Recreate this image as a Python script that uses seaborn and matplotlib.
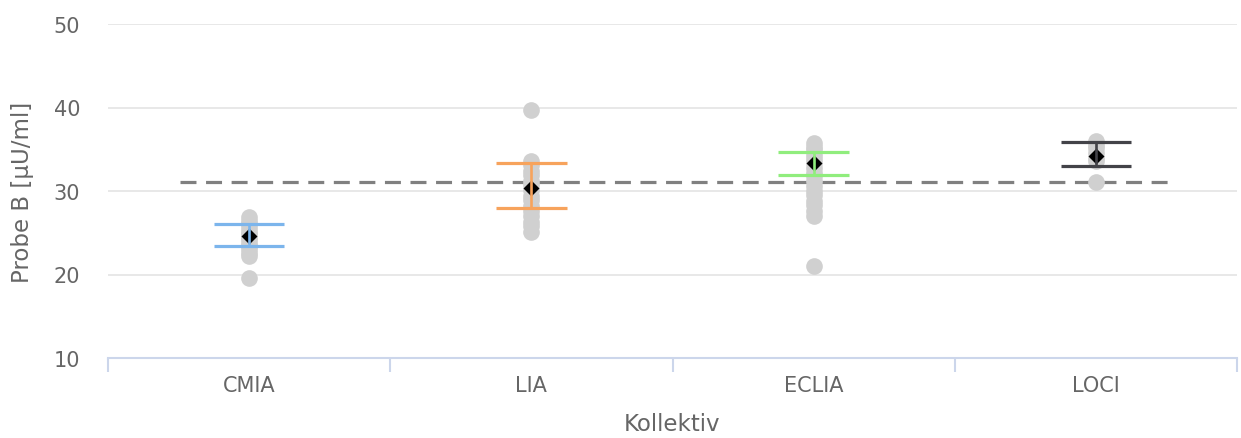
import matplotlib
matplotlib.use("Agg")
import matplotlib.pyplot as plt
import seaborn as sns
import pandas as pd
import numpy as np

# Categories and measured values per method
categories = ["CMIA", "LIA", "ECLIA", "LOCI"]
cmia_values = [26.9, 26.4, 26.0, 25.6, 25.1, 24.8, 24.5, 24.2, 23.8, 23.4, 23.0, 22.6, 22.2, 19.6]
lia_values = [39.7, 33.6, 33.1, 32.4, 31.9, 31.2, 30.7, 30.1, 29.4, 28.9, 28.2, 27.6, 27.0, 26.3, 25.8, 25.1]
eclia_values = [35.8, 35.3, 34.9, 34.3, 33.8, 33.4, 32.8, 32.2, 31.8, 31.2, 30.6, 30.0, 29.5, 28.8, 28.3, 27.6, 27.0, 21.0]
loci_values = [36.0, 35.5, 35.1, 34.6, 34.0, 33.6, 31.1]

# Summary per method: mean and interval bounds
means = [24.6, 30.4, 33.3, 34.2]
lower = [23.4, 28.0, 31.9, 33.0]
upper = [26.1, 33.3, 34.7, 35.9]

# Target value (dashed reference line)
target_value = 31.1

colors = ["#7cb5ec", "#f7a35c", "#90ed7d", "#434348"]
text_color = "#666666"

sns.set_style("white")
plt.rcParams["font.family"] = ["DejaVu Sans"]

points = pd.DataFrame({
    "Kollektiv": (["CMIA"] * len(cmia_values) + ["LIA"] * len(lia_values)
                  + ["ECLIA"] * len(eclia_values) + ["LOCI"] * len(loci_values)),
    "value": cmia_values + lia_values + eclia_values + loci_values,
})
summary = pd.DataFrame({"Kollektiv": categories, "mean": means,
                        "lower": lower, "upper": upper})

fig = plt.figure(figsize=(12.41, 4.39), dpi=100)
ax = fig.add_axes([108 / 1241, 1 - 359 / 439, (1237 - 108) / 1241, (359 - 25) / 439])

# horizontal grid
for v in [20, 30, 40, 50]:
    ax.axhline(v, color="#e6e6e6", lw=1.3, zorder=0)

# dashed target line
ax.plot([-0.245, 3.27], [target_value, target_value], color="#808080", lw=2.3,
        dashes=(5, 3), zorder=1)

# individual measurements
sns.stripplot(data=points, x="Kollektiv", y="value", order=categories, jitter=False,
              color="#d0d0d0", size=12, linewidth=0, ax=ax, zorder=2)

# interval caps
cap = 0.125
for i, (lo, hi, c) in enumerate(zip(lower, upper, colors)):
    ax.hlines([lo, hi], i - cap, i + cap, colors=c, lw=2.3, zorder=3)

# mean markers
sns.pointplot(data=summary, x="Kollektiv", y="mean", order=categories, color="black",
              markers="D", linestyles="none", markersize=6.5, errorbar=None, ax=ax)
for ln in ax.lines:
    if ln.get_marker() == "D":
        ln.set_zorder(4)

# vertical interval lines
for i, (lo, hi, c) in enumerate(zip(lower, upper, colors)):
    ax.vlines(i, lo, hi, colors=c, lw=1.9, zorder=5)

ax.set_xlim(-0.5, 3.5)
ax.set_ylim(10, 50)
ax.set_yticks([10, 20, 30, 40, 50])
ax.set_xticks(range(len(categories)))
ax.set_xticklabels(categories)
ax.set_xticks(np.arange(-0.5, 3.6, 1.0), minor=True)
ax.tick_params(axis="x", which="major", bottom=False, length=0, pad=12.5,
               labelsize=15, labelcolor=text_color)
ax.tick_params(axis="x", which="minor", bottom=True, length=10, width=1.5, color="#ccd6eb")
ax.tick_params(axis="y", length=0, pad=20, labelsize=15, labelcolor=text_color)
for t in ax.get_yticklabels():
    t.set_horizontalalignment("right")

for side in ["top", "right", "left"]:
    ax.spines[side].set_visible(False)
ax.spines["bottom"].set_color("#ccd6eb")
ax.spines["bottom"].set_linewidth(1.5)

ax.set_xlabel("Kollektiv", fontsize=16.5, color=text_color, labelpad=12)
ax.set_ylabel("Probe B [µU/ml]", fontsize=16.5, color=text_color, labelpad=14)

fig.savefig("out.png", dpi=100, facecolor="white")
